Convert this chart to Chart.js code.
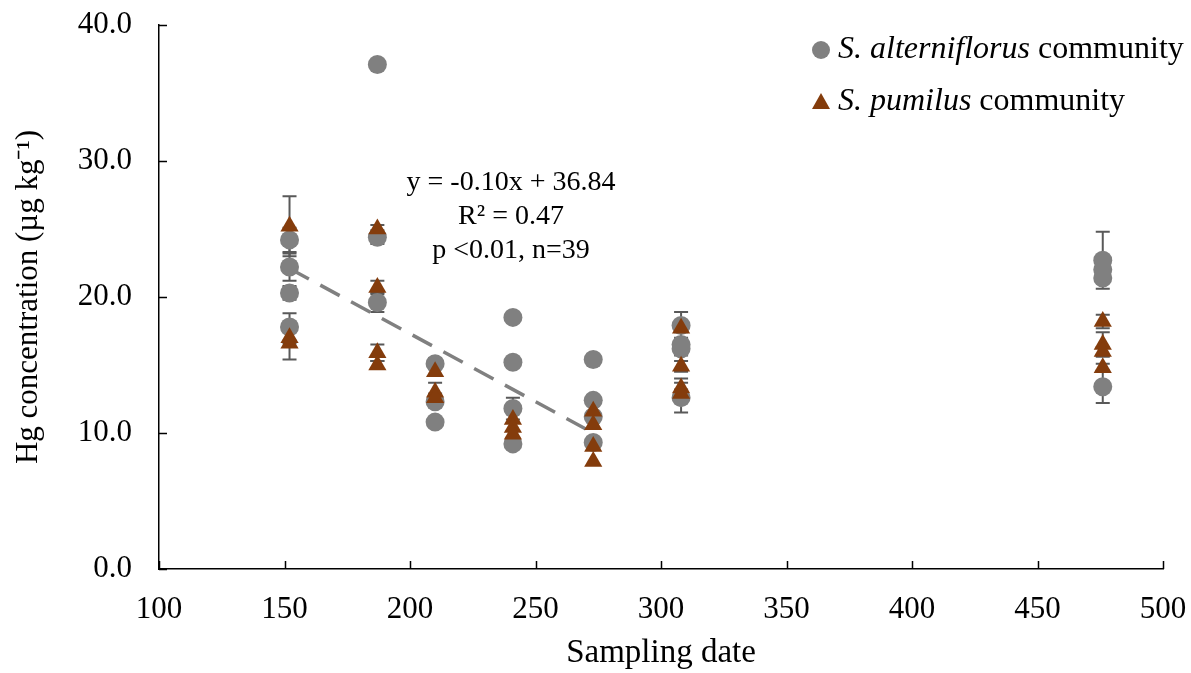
<!DOCTYPE html>
<html>
<head>
<meta charset="utf-8">
<script src="https://cdn.jsdelivr.net/npm/chart.js@4"></script>
<style>
  html, body { margin: 0; padding: 0; background: #fff; }
  #wrap { width: 1191px; height: 673px; }
</style>
</head>
<body>
<div id="wrap"><canvas id="myChart" width="1191" height="673"></canvas></div>
<script>
// S. alterniflorus community (circles)
var altX   = [152, 152, 152, 152, 187, 187, 187, 210, 210, 210, 241, 241, 241, 241, 273, 273, 273, 273, 308, 308, 308, 308, 476, 476, 476, 476];
var altY   = [24.2, 22.2, 20.3, 17.8, 37.1, 24.4, 19.6, 15.1, 12.3, 10.8, 18.5, 15.2, 11.8, 9.2, 15.4, 12.4, 11.2, 9.3, 17.9, 16.5, 16.2, 12.6, 22.7, 22.0, 21.4, 13.4];
var altErr = [0.9, 1.0, 0.5, 1.0, 0, 0.5, 0.7, 0.4, 0.4, 0, 0, 0, 0.8, 0, 0, 0, 0, 0, 1.0, 0.5, 0.5, 1.1, 2.1, 0, 0, 1.2];

// S. pumilus community (triangles)
var pumX   = [152, 152, 152, 187, 187, 187, 187, 210, 210, 210, 241, 241, 241, 273, 273, 273, 273, 308, 308, 308, 308, 476, 476, 476, 476];
var pumY   = [25.2, 17.0, 16.6, 25.0, 20.7, 15.9, 15.0, 14.5, 13.0, 12.6, 11.0, 10.4, 9.9, 11.6, 10.6, 9.0, 7.9, 17.7, 14.9, 13.3, 12.9, 18.2, 16.5, 16.0, 14.8];
var pumErr = [2.2, 0.4, 1.2, 0.3, 0.5, 0.6, 0.3, 0, 0.7, 0.3, 0, 0, 0, 0, 0, 0, 0, 0.3, 0.4, 0.7, 0.3, 0.5, 0.9, 0.3, 0.3];

// linear trend (fitted line endpoints)
var trendX = [152, 273];
var trendY = [22.1, 10.0];

var xTicks = [100, 150, 200, 250, 300, 350, 400, 450, 500];
var yTicks = [0, 10, 20, 30, 40];
var eqLines = ['y = -0.10x + 36.84', 'R\u00B2 = 0.47', 'p <0.01, n=39'];

var FONT = '"Liberation Serif", "Times New Roman", serif';
var GREY = '#808080';
var BROWN = '#843C0C';

function pts(xs, ys) {
  return xs.map(function (x, i) { return { x: x, y: ys[i] }; });
}

var errorBars = {
  id: 'errorBars',
  beforeDatasetsDraw: function (chart) {
    var c = chart.ctx, xs = chart.scales.x, ys = chart.scales.y;
    c.save();
    c.strokeStyle = '#595959';
    c.lineWidth = 2;
    [[altX, altY, altErr], [pumX, pumY, pumErr]].forEach(function (s) {
      s[0].forEach(function (x, i) {
        var e = s[2][i];
        if (!e) return;
        var px = xs.getPixelForValue(x);
        var top = ys.getPixelForValue(s[1][i] + e);
        var bot = ys.getPixelForValue(s[1][i] - e);
        c.beginPath();
        c.moveTo(px, top); c.lineTo(px, bot);
        c.moveTo(px - 7, top); c.lineTo(px + 7, top);
        c.moveTo(px - 7, bot); c.lineTo(px + 7, bot);
        c.stroke();
      });
    });
    c.restore();
  }
};

var extras = {
  id: 'extras',
  afterDraw: function (chart) {
    var c = chart.ctx, a = chart.chartArea, xs = chart.scales.x, ys = chart.scales.y;
    c.save();
    // inward tick marks
    c.strokeStyle = '#000';
    c.lineWidth = 1.5;
    c.beginPath();
    yTicks.forEach(function (v) {
      var py = Math.round(ys.getPixelForValue(v)) + 0.5;
      c.moveTo(a.left, py); c.lineTo(a.left + 8, py);
    });
    xTicks.forEach(function (v) {
      var px = Math.round(xs.getPixelForValue(v)) + 0.5;
      c.moveTo(px, a.bottom); c.lineTo(px, a.bottom - 8);
    });
    c.stroke();

    // regression text
    c.fillStyle = '#000';
    c.font = '28px ' + FONT;
    c.textAlign = 'center';
    c.textBaseline = 'middle';
    eqLines.forEach(function (t, i) {
      c.fillText(t, 511, 183 + i * 34);
    });

    // legend
    c.textAlign = 'left';
    var items = [
      { y: 50, ital: 'S. alterniflorus', rest: ' community', color: GREY, tri: false },
      { y: 102, ital: 'S. pumilus', rest: ' community', color: BROWN, tri: true }
    ];
    items.forEach(function (it) {
      c.fillStyle = it.color;
      c.beginPath();
      if (it.tri) {
        c.moveTo(821, it.y - 9); c.lineTo(830, it.y + 7); c.lineTo(812, it.y + 7); c.closePath();
      } else {
        c.arc(821, it.y, 9, 0, Math.PI * 2);
      }
      c.fill();
      c.fillStyle = '#000';
      c.font = 'italic 32px ' + FONT;
      c.fillText(it.ital, 838, it.y);
      var w = c.measureText(it.ital).width;
      c.font = '32px ' + FONT;
      c.fillText(it.rest, 838 + w, it.y);
    });
    c.restore();
  }
};

var ctx = document.getElementById('myChart').getContext('2d');
var myChart = new Chart(ctx, {
  type: 'scatter',
  data: {
    datasets: [{
      label: 'trend',
      type: 'line',
      data: pts(trendX, trendY),
      borderColor: GREY,
      borderWidth: 3.5,
      borderDash: [22, 13],
      pointRadius: 0,
      fill: false,
      order: 3
    }, {
      label: 'S. alterniflorus community',
      data: pts(altX, altY),
      pointStyle: 'circle',
      pointRadius: 9.5,
      backgroundColor: GREY,
      borderColor: GREY,
      borderWidth: 0,
      order: 2
    }, {
      label: 'S. pumilus community',
      data: pts(pumX, pumY),
      pointStyle: 'triangle',
      pointRadius: 10.5,
      backgroundColor: BROWN,
      borderColor: BROWN,
      borderWidth: 0,
      order: 1
    }]
  },
  options: {
    responsive: false,
    animation: false,
    events: [],
    layout: { padding: { top: 25, right: 28, left: 0, bottom: 0 } },
    plugins: {
      legend: { display: false },
      tooltip: { enabled: false }
    },
    scales: {
      x: {
        type: 'linear',
        min: 100, max: 500,
        afterFit: function (s) { s.height = 104; s.paddingLeft = 0; s.paddingRight = 0; },
        afterBuildTicks: function (s) { s.ticks = xTicks.map(function (v) { return { value: v }; }); },
        grid: { display: false },
        border: { display: true, color: '#000', width: 1.5 },
        ticks: { color: '#000', font: { family: FONT, size: 31 }, padding: 14, maxRotation: 0 },
        title: { display: true, text: 'Sampling date', color: '#000', font: { family: FONT, size: 33 }, padding: { top: 12, bottom: 0 } }
      },
      y: {
        min: 0, max: 40,
        afterFit: function (s) { s.width = 159; s.paddingTop = 0; s.paddingBottom = 0; },
        afterBuildTicks: function (s) { s.ticks = yTicks.map(function (v) { return { value: v }; }); },
        grid: { display: false },
        border: { display: true, color: '#000', width: 1.5 },
        ticks: {
          color: '#000', font: { family: FONT, size: 31 }, padding: 19,
          callback: function (v) { return v.toFixed(1); }
        },
        title: { display: true, text: 'Hg concentration (\u00B5g kg\u207B\u00B9)', color: '#000', font: { family: FONT, size: 31 }, padding: { top: 10, bottom: 4 } }
      }
    }
  },
  plugins: [errorBars, extras]
});
</script>
</body>
</html>
